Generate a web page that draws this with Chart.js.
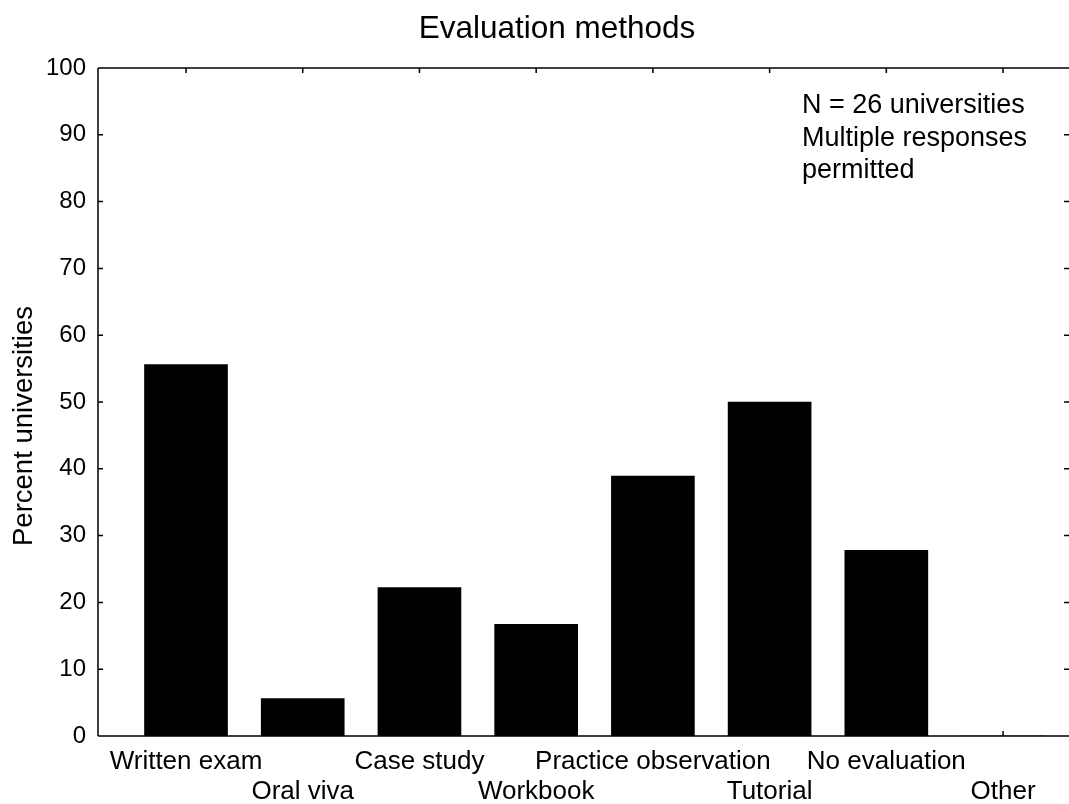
<!DOCTYPE html>
<html>
<head>
<meta charset="utf-8">
<script src="https://cdn.jsdelivr.net/npm/chart.js@4/dist/chart.umd.min.js"></script>
<style>
  body { margin: 0; background: #fff; }
  canvas { display: block; }
</style>
</head>
<body>
<canvas id="chart" width="1069" height="804"></canvas>
<script>
// data (percent of 26 universities)
const methods = ['Written exam', 'Oral viva', 'Case study', 'Workbook',
  'Practice observation', 'Tutorial', 'No evaluation', 'Other'];
const percents = [55.6, 5.6, 22.2, 16.7, 38.9, 50.0, 27.8, 0];
const yTicks = [0, 10, 20, 30, 40, 50, 60, 70, 80, 90, 100];
const noteLines = ['N = 26 universities', 'Multiple responses', 'permitted'];

const FONT = '"Liberation Sans", Arial, Helvetica, sans-serif';

// frame, inward ticks, title, axis title, note
const decor = {
  id: 'decor',
  afterDraw(chart) {
    const ctx = chart.ctx;
    const a = chart.chartArea;
    const x = chart.scales.x, y = chart.scales.y;
    ctx.save();
    ctx.strokeStyle = '#000';
    ctx.lineWidth = 1.5;
    ctx.beginPath();
    ctx.moveTo(a.left, a.top); ctx.lineTo(a.right, a.top);
    ctx.moveTo(a.left, a.top); ctx.lineTo(a.left, a.bottom);
    ctx.moveTo(a.left, a.bottom); ctx.lineTo(a.right, a.bottom);
    yTicks.forEach(v => {
      const py = y.getPixelForValue(v);
      ctx.moveTo(a.left, py); ctx.lineTo(a.left + 5, py);
      ctx.moveTo(a.right, py); ctx.lineTo(a.right - 5, py);
    });
    methods.forEach((m, i) => {
      const px = x.getPixelForValue(i);
      ctx.moveTo(px, a.top); ctx.lineTo(px, a.top + 5);
      ctx.moveTo(px, a.bottom); ctx.lineTo(px, a.bottom - 5);
    });
    ctx.stroke();

    ctx.fillStyle = '#000';
    ctx.textAlign = 'center';
    ctx.textBaseline = 'alphabetic';
    ctx.font = '31.5px ' + FONT;
    ctx.fillText('Evaluation methods', 557, 38);

    ctx.textBaseline = 'middle';
    ctx.save();
    ctx.translate(24, 426);
    ctx.rotate(-Math.PI / 2);
    ctx.font = '27.5px ' + FONT;
    ctx.fillText('Percent universities', 0, 0);
    ctx.restore();

    ctx.textAlign = 'left';
    ctx.font = '27px ' + FONT;
    noteLines.forEach((t, i) => ctx.fillText(t, 802, 106 + i * 32.5));
    ctx.restore();
  }
};

new Chart(document.getElementById('chart'), {
  type: 'bar',
  data: {
    datasets: [{
      data: percents.map((v, i) => ({ x: i, y: v })),
      backgroundColor: '#000',
      borderWidth: 0,
      barThickness: 83
    }]
  },
  options: {
    responsive: false,
    animation: false,
    devicePixelRatio: 1,
    layout: { padding: { top: 68, right: 0, left: 0, bottom: 0 } },
    plugins: { legend: { display: false }, tooltip: { enabled: false } },
    scales: {
      x: {
        type: 'linear',
        offset: false,
        min: -0.754,
        max: 7.565,
        grid: { display: false },
        border: { display: false },
        afterBuildTicks: s => { s.ticks = methods.map((m, i) => ({ value: i })); },
        afterFit: s => { s.height = 68; },
        ticks: {
          autoSkip: false,
          maxRotation: 0,
          padding: 3,
          color: '#000',
          font: { family: FONT, size: 26, lineHeight: 1.15 },
          callback: v => (v % 2 === 0 ? methods[v] : ['', methods[v]])
        }
      },
      y: {
        min: 0,
        max: 100,
        grid: { display: false, drawTicks: false },
        border: { display: false },
        afterBuildTicks: s => { s.ticks = yTicks.map(v => ({ value: v })); },
        afterFit: s => { s.width = 98; },
        ticks: {
          padding: 12,
          color: '#000',
          font: { family: FONT, size: 24 }
        }
      }
    }
  },
  plugins: [decor]
});
</script>
</body>
</html>
